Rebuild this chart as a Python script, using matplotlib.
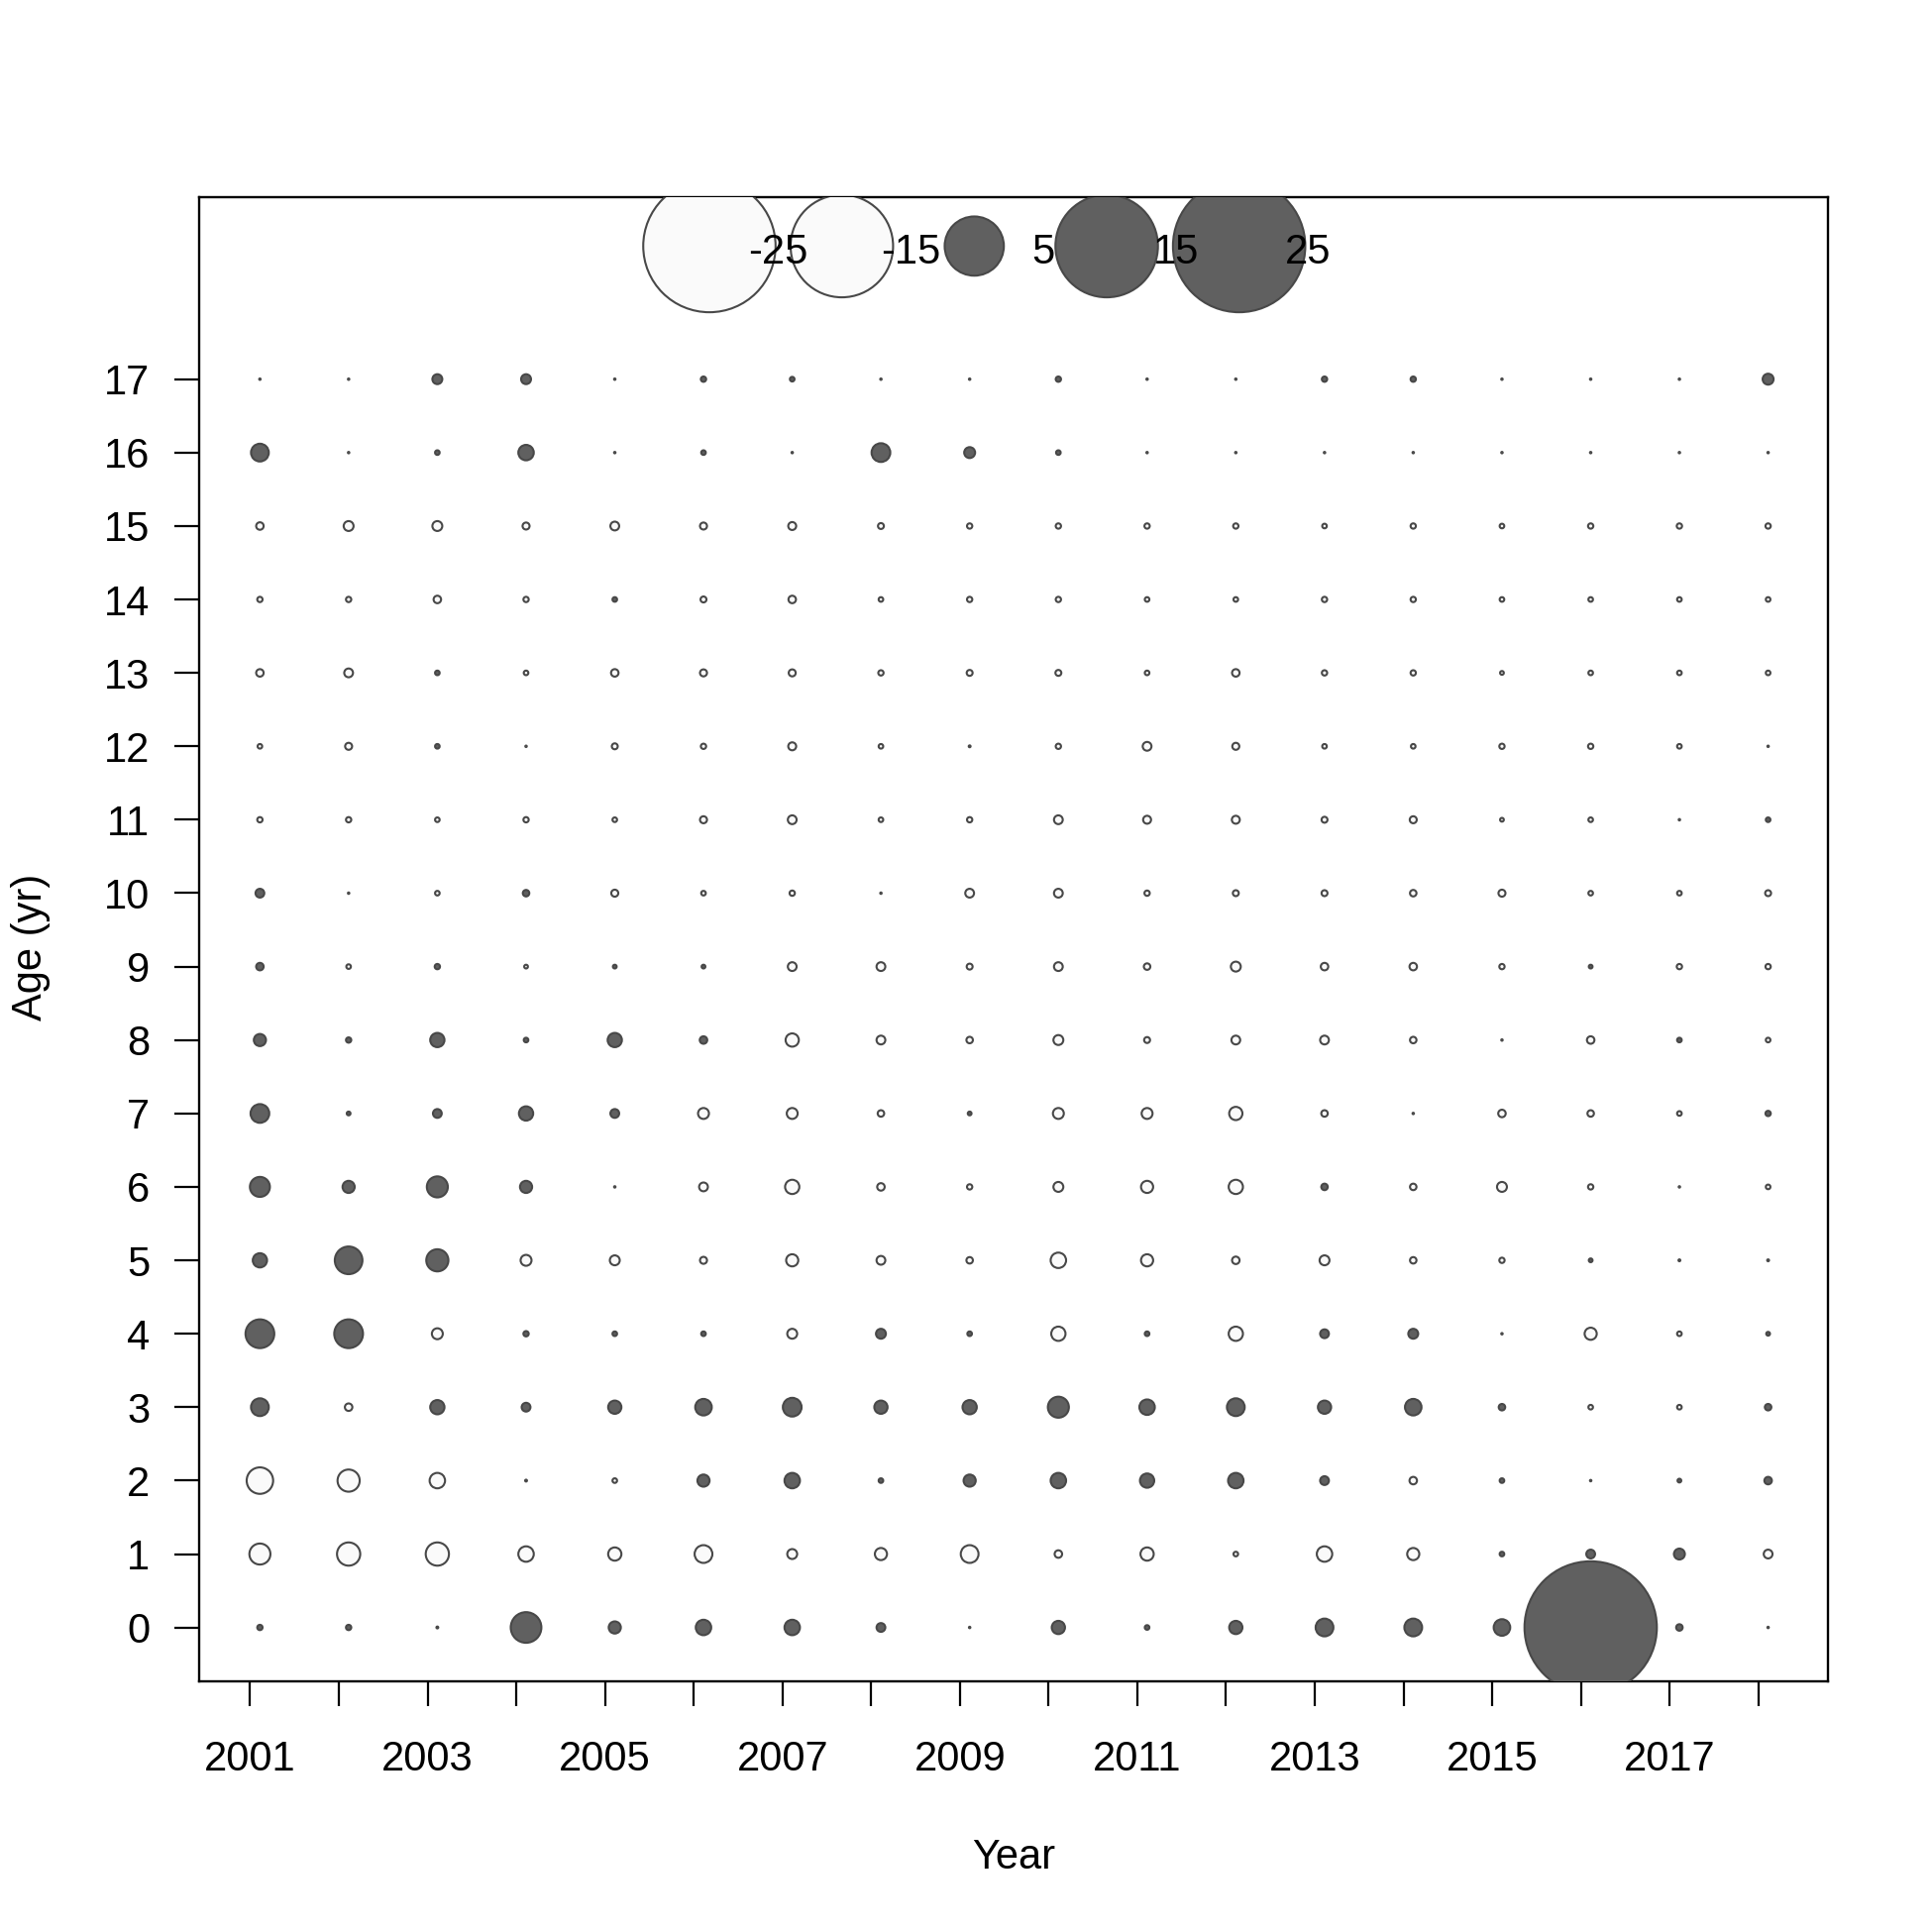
import numpy as np
import matplotlib
matplotlib.use("Agg")
import matplotlib.pyplot as plt

plt.rcParams["font.family"] = ["Liberation Sans", "DejaVu Sans"]

years = list(range(2001, 2019))
ages = list(range(0, 18))
year_labels = [str(y) if y % 2 == 1 else "" for y in years]

# Pearson residuals by age, one value per year 2001..2018
resid_age0 = [0.04, 0.04, 0.005, 1.34, 0.21, 0.34, 0.34, 0.11, 0.003, 0.25, 0.03, 0.25, 0.45, 0.45, 0.39, 25.0, 0.06, 0.003]
resid_age1 = [-0.63, -0.77, -0.77, -0.34, -0.25, -0.45, -0.14, -0.21, -0.45, -0.08, -0.25, -0.03, -0.34, -0.21, 0.03, 0.11, 0.17, -0.11]
resid_age2 = [-1.00, -0.70, -0.34, 0.005, -0.03, 0.21, 0.34, 0.03, 0.21, 0.34, 0.29, 0.34, 0.11, -0.08, 0.03, 0.003, 0.02, 0.08]
resid_age3 = [0.45, -0.08, 0.29, 0.11, 0.25, 0.39, 0.50, 0.25, 0.29, 0.63, 0.34, 0.45, 0.25, 0.39, 0.06, -0.03, -0.03, 0.06]
resid_age4 = [1.18, 1.18, -0.17, 0.04, 0.03, 0.03, -0.14, 0.14, 0.03, -0.29, 0.03, -0.29, 0.11, 0.14, 0.003, -0.21, -0.03, 0.02]
resid_age5 = [0.29, 1.09, 0.70, -0.17, -0.14, -0.07, -0.21, -0.11, -0.06, -0.34, -0.21, -0.08, -0.14, -0.06, -0.04, 0.02, 0.005, 0.005]
resid_age6 = [0.57, 0.21, 0.63, 0.21, 0.003, -0.11, -0.29, -0.08, -0.04, -0.14, -0.21, -0.29, 0.06, -0.06, -0.14, -0.04, 0.003, -0.03]
resid_age7 = [0.50, 0.02, 0.11, 0.29, 0.11, -0.17, -0.17, -0.06, 0.02, -0.17, -0.17, -0.25, -0.06, 0.003, -0.08, -0.06, -0.03, 0.04]
resid_age8 = [0.21, 0.04, 0.29, 0.03, 0.29, 0.08, -0.25, -0.11, -0.06, -0.14, -0.05, -0.11, -0.11, -0.06, 0.003, -0.08, 0.03, -0.03]
resid_age9 = [0.08, -0.03, 0.04, -0.02, 0.02, 0.02, -0.11, -0.11, -0.05, -0.11, -0.06, -0.14, -0.08, -0.08, -0.04, 0.02, -0.04, -0.04]
resid_age10 = [0.11, 0.003, -0.03, 0.06, -0.07, -0.03, -0.04, 0.003, -0.11, -0.11, -0.04, -0.05, -0.05, -0.06, -0.07, -0.03, -0.03, -0.05]
resid_age11 = [-0.04, -0.04, -0.03, -0.04, -0.03, -0.07, -0.11, -0.03, -0.04, -0.11, -0.09, -0.09, -0.05, -0.07, -0.02, -0.03, 0.003, 0.03]
resid_age12 = [-0.03, -0.07, 0.03, 0.003, -0.05, -0.04, -0.09, -0.03, 0.005, -0.04, -0.11, -0.07, -0.03, -0.03, -0.04, -0.04, -0.03, 0.003]
resid_age13 = [-0.08, -0.11, 0.03, -0.03, -0.08, -0.07, -0.07, -0.04, -0.05, -0.05, -0.03, -0.08, -0.04, -0.04, -0.02, -0.03, -0.03, -0.03]
resid_age14 = [-0.04, -0.04, -0.08, -0.04, 0.03, -0.05, -0.08, -0.03, -0.04, -0.04, -0.03, -0.03, -0.04, -0.04, -0.03, -0.03, -0.03, -0.03]
resid_age15 = [-0.08, -0.14, -0.14, -0.07, -0.11, -0.07, -0.09, -0.05, -0.04, -0.04, -0.04, -0.04, -0.03, -0.04, -0.03, -0.04, -0.04, -0.04]
resid_age16 = [0.45, 0.003, 0.03, 0.34, 0.003, 0.03, 0.003, 0.50, 0.17, 0.03, 0.003, 0.003, 0.003, 0.003, 0.003, 0.003, 0.003, 0.003]
resid_age17 = [0.003, 0.003, 0.14, 0.14, 0.003, 0.04, 0.03, 0.003, 0.003, 0.04, 0.003, 0.003, 0.04, 0.04, 0.003, 0.003, 0.003, 0.17]

legend_values = [-25, -15, 5, 15, 25]

residuals = np.array([
    resid_age0, resid_age1, resid_age2, resid_age3, resid_age4, resid_age5,
    resid_age6, resid_age7, resid_age8, resid_age9, resid_age10, resid_age11,
    resid_age12, resid_age13, resid_age14, resid_age15, resid_age16, resid_age17,
])

# sampling occurs a little into each year
x_shift = 0.11
size_scale = 370.0          # marker area (pt^2) per unit |residual|
pos_fill, neg_fill, edge = "#606060", "#fafafa", "#484848"
edge_lw = 1.5

fig = plt.figure(figsize=(19.5, 19.5), dpi=100)
ax = fig.add_axes([0.1033, 0.1295, 0.9464 - 0.1033, 0.898 - 0.1295])

yy, xx = np.meshgrid(ages, years, indexing="ij")
xs = xx.ravel() + x_shift
ys = yy.ravel().astype(float)
zs = residuals.ravel()

# largest bubbles first so small ones stay visible on top
order = np.argsort(-np.abs(zs))
xs, ys, zs = xs[order], ys[order], zs[order]
ax.scatter(xs, ys, s=size_scale * np.abs(zs),
           c=[pos_fill if z > 0 else neg_fill for z in zs],
           edgecolors=edge, linewidths=edge_lw, zorder=3)

# bubble size key along the top of the panel
lx = 0.313 + 0.0813 * np.arange(len(legend_values))
ly = 0.967
ax.scatter(lx, [ly] * len(lx), s=size_scale * np.abs(legend_values),
           c=[pos_fill if v > 0 else neg_fill for v in legend_values],
           edgecolors=edge, linewidths=edge_lw, transform=ax.transAxes, zorder=4)
for x0, v in zip(lx, legend_values):
    ax.text(x0 + 0.0424, ly - 0.0045, str(v), transform=ax.transAxes,
            ha="center", va="center", fontsize=30, zorder=5)

x_lo, x_hi = years[0] + x_shift, years[-1] + x_shift
pad = 0.04 * (x_hi - x_lo)
ax.set_xlim(x_lo - pad, x_hi + pad)
ax.set_ylim(-0.74, 19.48)

ax.set_xticks(years)
ax.set_xticklabels(year_labels)
ax.set_yticks(ages)
ax.set_yticklabels([str(a) for a in ages])
ax.tick_params(axis="both", direction="out", length=18, width=1.6,
               labelsize=30, color="black")
ax.tick_params(axis="x", pad=24)
ax.tick_params(axis="y", pad=18)
for sp in ax.spines.values():
    sp.set_linewidth(1.7)

ax.set_xlabel("Year", fontsize=30)
ax.set_ylabel("Age (yr)", fontsize=30)
ax.xaxis.set_label_coords(0.5, -0.1185)
ax.xaxis.label.set_va("center")
ax.yaxis.set_label_coords(-0.1037, 0.495)
ax.yaxis.label.set_va("center")

fig.savefig("out.png", dpi=100, facecolor="white")
